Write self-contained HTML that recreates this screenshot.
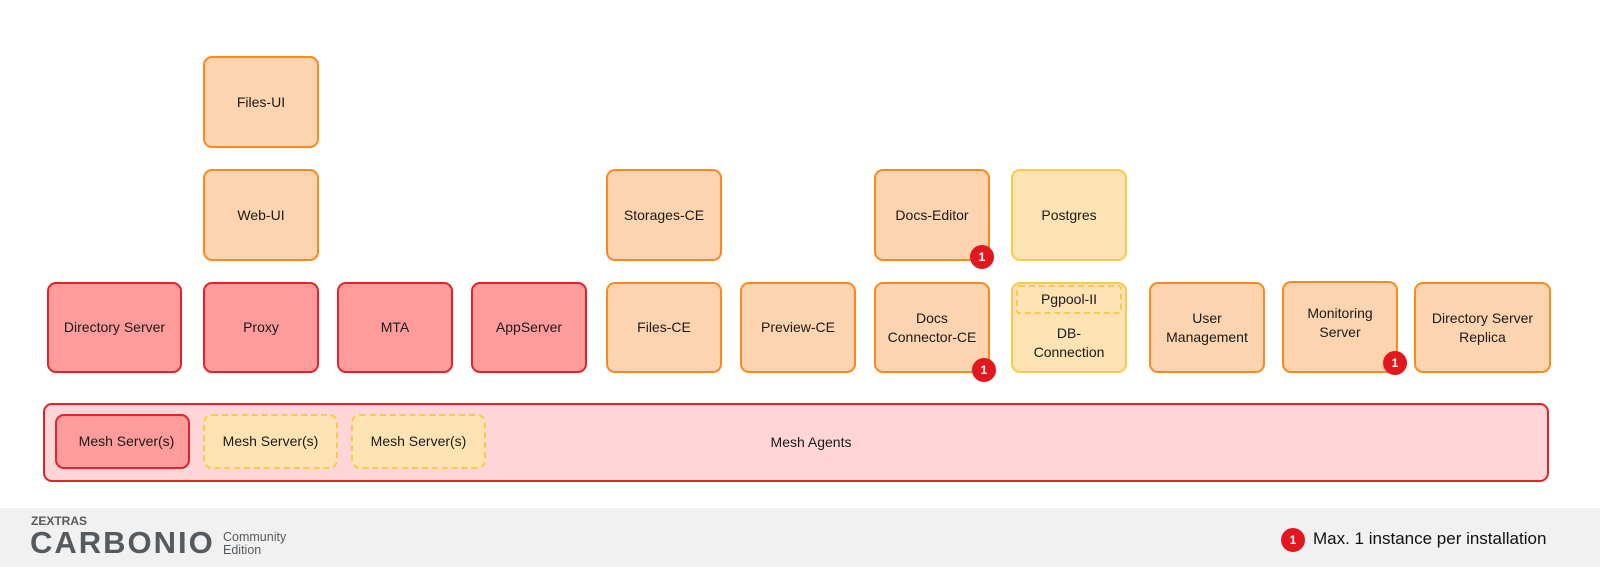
<!DOCTYPE html>
<html><head><meta charset="utf-8"><style>
*{margin:0;padding:0;box-sizing:border-box}
body{width:1600px;height:567px;background:#fff;position:relative;overflow:hidden;font-family:"Liberation Sans",sans-serif;color:#1a1a1a}
.b{position:absolute;border:2px solid;border-radius:9px;display:flex;align-items:center;justify-content:center;text-align:center;font-size:14px;line-height:19px}
.r{background:#fe9b9b;border-color:#e3222a}
.o{background:#fdd4b0;border-color:#fb8a1e}
.y{background:#fde3b4;border-color:#f7c94e}
.d{border-style:dashed}
.badge{position:absolute;width:24px;height:24px;border-radius:50%;background:#e3181f;color:#fff;font-size:12px;font-weight:bold;display:flex;align-items:center;justify-content:center}
</style></head><body>
<div class="b o" style="left:203px;top:56px;width:116px;height:92px">Files-UI</div>
<div class="b o" style="left:203px;top:169px;width:116px;height:92px">Web-UI</div>
<div class="b o" style="left:606px;top:169px;width:116px;height:92px">Storages-CE</div>
<div class="b o" style="left:874px;top:169px;width:116px;height:92px">Docs-Editor</div>
<div class="b y" style="left:1011px;top:169px;width:116px;height:92px">Postgres</div>

<div class="b r" style="left:47px;top:282px;width:135px;height:91px">Directory Server</div>
<div class="b r" style="left:203px;top:282px;width:116px;height:91px">Proxy</div>
<div class="b r" style="left:337px;top:282px;width:116px;height:91px">MTA</div>
<div class="b r" style="left:471px;top:282px;width:116px;height:91px">AppServer</div>
<div class="b o" style="left:606px;top:282px;width:116px;height:91px">Files-CE</div>
<div class="b o" style="left:740px;top:282px;width:116px;height:91px">Preview-CE</div>
<div class="b o" style="left:874px;top:282px;width:116px;height:91px">Docs<br>Connector-CE</div>
<div class="b y" style="left:1011px;top:282px;width:116px;height:91px;padding-top:30px">DB-<br>Connection</div>
<div class="b y d" style="left:1016px;top:285px;width:106px;height:29px;border-radius:3px;background:transparent">Pgpool-II</div>
<div class="b o" style="left:1149px;top:282px;width:116px;height:91px">User<br>Management</div>
<div class="b o" style="left:1282px;top:281px;width:116px;height:92px;padding-bottom:8px">Monitoring<br>Server</div>
<div class="b o" style="left:1414px;top:282px;width:137px;height:91px">Directory Server<br>Replica</div>

<div class="b" style="left:43px;top:403px;width:1506px;height:79px;background:#fed6d7;border-color:#e3222a;padding-left:30px">Mesh Agents</div>
<div class="b r" style="left:55px;top:414px;width:135px;height:55px;padding-left:8px">Mesh Server(s)</div>
<div class="b y d" style="left:203px;top:414px;width:135px;height:55px">Mesh Server(s)</div>
<div class="b y d" style="left:351px;top:414px;width:135px;height:55px">Mesh Server(s)</div>

<div class="badge" style="left:970px;top:245px">1</div>
<div class="badge" style="left:972px;top:358px">1</div>
<div class="badge" style="left:1383px;top:351px">1</div>

<div style="position:absolute;left:0;top:508px;width:1600px;height:59px;background:#f1f1f1"></div>
<div style="position:absolute;left:31px;top:515px;font-size:12px;font-weight:bold;color:#555a5e;line-height:12px">ZEXTRAS</div>
<div style="position:absolute;left:30px;top:528px;font-size:31px;font-weight:bold;color:#555a5e;line-height:30px;letter-spacing:2px">CARBONIO</div>
<div style="position:absolute;left:223px;top:531px;font-size:12.5px;color:#555a5e;line-height:13px">Community<br>Edition</div>
<div class="badge" style="left:1281px;top:528px">1</div>
<div style="position:absolute;left:1313px;top:529px;font-size:17px;line-height:20px;color:#111">Max. 1 instance per installation</div>
</body></html>
